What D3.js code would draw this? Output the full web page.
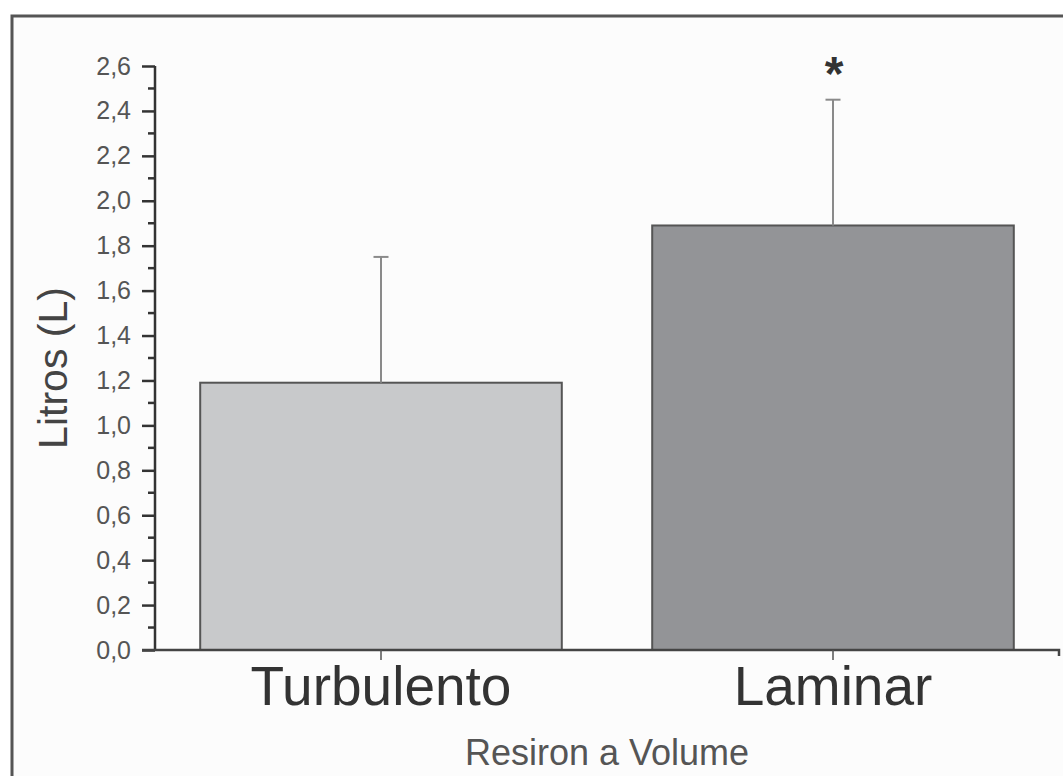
<!DOCTYPE html>
<html>
<head>
<meta charset="utf-8">
<script src="https://cdn.jsdelivr.net/npm/d3@7"></script>
<style>
  html, body { margin: 0; padding: 0; background: #ffffff; }
  svg { display: block; }
  text { font-family: "Liberation Sans", Arial, sans-serif; }
</style>
</head>
<body>
<svg id="chart" width="1063" height="776"></svg>
<script>
const categories = ["Turbulento", "Laminar"];
const means = [1.19, 1.89];
const errors = [0.56, 0.56];
const significance = ["", "*"];
const yTicks = [0, 0.2, 0.4, 0.6, 0.8, 1.0, 1.2, 1.4, 1.6, 1.8, 2.0, 2.2, 2.4, 2.6];
const barColors = ["#c8c9cb", "#939497"];
const xTitle = "Resiron a Volume";
const yTitle = "Litros (L)";

(function () {
const W = 1063, H = 776;
const svg = d3.select("#chart");

// frame
svg.append("rect").attr("x", 0).attr("y", 0).attr("width", W).attr("height", H).attr("fill", "#ffffff");
svg.append("rect").attr("x", 12).attr("y", 16).attr("width", W + 10).attr("height", H + 10)
  .attr("fill", "#fcfcfc").attr("stroke", "#555555").attr("stroke-width", 3);

const mLeft = 155, mRight = 1059, mTop = 66, mBottom = 650;

const x = d3.scaleBand().domain(categories).range([mLeft, mRight])
  .paddingInner(0.2).paddingOuter(0.1);
const y = d3.scaleLinear().domain([0, 2.6]).range([mBottom, mTop]);

const fmt = d => d3.format(".1f")(d).replace(".", ",");

// bars
svg.selectAll("rect.bar").data(categories).enter().append("rect")
  .attr("class", "bar")
  .attr("x", d => x(d))
  .attr("y", (d, i) => y(means[i]))
  .attr("width", x.bandwidth())
  .attr("height", (d, i) => y(0) - y(means[i]))
  .attr("fill", (d, i) => barColors[i])
  .attr("stroke", "#555555")
  .attr("stroke-width", 2);

// error bars
const cap = 7.5;
categories.forEach((c, i) => {
  const cx = x(c) + x.bandwidth() / 2;
  const g = svg.append("g").attr("stroke", "#8a8a8a").attr("stroke-width", 2);
  g.append("line").attr("x1", cx).attr("x2", cx)
    .attr("y1", y(means[i])).attr("y2", y(means[i] + errors[i]));
  g.append("line").attr("x1", cx - cap).attr("x2", cx + cap)
    .attr("y1", y(means[i] + errors[i])).attr("y2", y(means[i] + errors[i]));
  if (significance[i]) {
    svg.append("text").attr("x", cx + 1).attr("y", 90)
      .attr("text-anchor", "middle").attr("font-size", 48).attr("font-weight", "bold")
      .attr("fill", "#333333").text(significance[i]);
  }
});

// y axis
const yAxis = d3.axisLeft(y).tickValues(yTicks).tickFormat(fmt).tickSize(13).tickPadding(11);
const gy = svg.append("g").attr("transform", `translate(${mLeft},0)`).call(yAxis);
gy.select(".domain").attr("stroke", "#333333").attr("stroke-width", 2.5)
  .attr("d", `M0,${mTop}V${mBottom}`);
gy.selectAll(".tick line").attr("stroke", "#333333").attr("stroke-width", 2.5);
gy.selectAll(".tick text").attr("font-size", 25).attr("fill", "#555555")
  .style("font-family", "'Liberation Sans', Arial, sans-serif");
// minor ticks
const minor = yTicks.slice(0, -1).map(v => v + 0.1);
svg.append("g").selectAll("line").data(minor).enter().append("line")
  .attr("x1", mLeft - 7).attr("x2", mLeft)
  .attr("y1", d => y(d)).attr("y2", d => y(d))
  .attr("stroke", "#333333").attr("stroke-width", 2.5);

// x axis
const xAxis = d3.axisBottom(x).tickSize(10).tickPadding(8);
const gx = svg.append("g").attr("transform", `translate(0,${mBottom})`).call(xAxis);
gx.select(".domain").attr("stroke", "#444444").attr("stroke-width", 2.5)
  .attr("d", `M${mLeft - 13},0H${mRight}V6`);
gx.selectAll(".tick line").attr("stroke", "#555555").attr("stroke-width", 1.5);
gx.selectAll(".tick text").attr("font-size", 55).attr("fill", "#333333")
  .attr("dy", null).attr("y", 55)
  .style("font-family", "'Liberation Sans', Arial, sans-serif");

// axis titles
svg.append("text").attr("x", 607).attr("y", 765).attr("text-anchor", "middle")
  .attr("font-size", 36).attr("fill", "#555555").text(xTitle);
svg.append("text").attr("transform", "translate(67,368) rotate(-90)")
  .attr("text-anchor", "middle").attr("font-size", 41).attr("fill", "#444444").text(yTitle);
})();
</script>
</body>
</html>
